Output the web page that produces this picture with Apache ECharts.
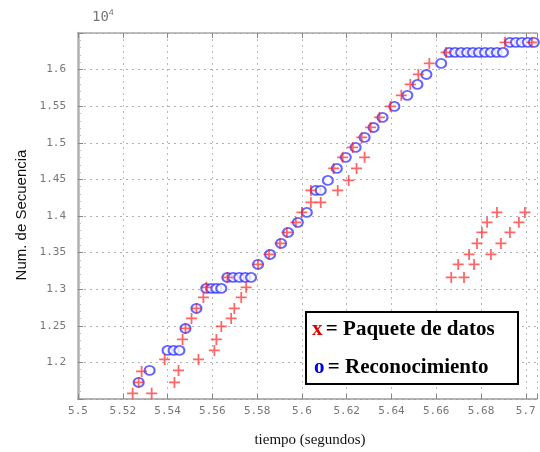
<!DOCTYPE html>
<html>
<head>
<meta charset="utf-8">
<script src="https://cdn.jsdelivr.net/npm/echarts@6/dist/echarts.min.js"></script>
<style>
  html, body { margin: 0; padding: 0; background: #fff; }
  #main { width: 540px; height: 452px; }
</style>
</head>
<body>
<div id="main"></div>
<script>
// tick labels (secuencia en unidades de 10^4)
var xTicks = ['5.5', '5.52', '5.54', '5.56', '5.58', '5.6', '5.62', '5.64', '5.66', '5.68', '5.7'];
var yTicks = ['1.2', '1.25', '1.3', '1.35', '1.4', '1.45', '1.5', '1.55', '1.6'];

// x = Paquete de datos  [tiempo, secuencia]
var paquetes = [
  [5.5244, 1.1577], [5.5271, 1.1727], [5.5284, 1.1877], [5.5329, 1.1577],
  [5.5387, 1.2041], [5.5431, 1.1727], [5.5449, 1.1891], [5.5467, 1.2314],
  [5.548, 1.2464], [5.5507, 1.2601], [5.5529, 1.2738], [5.5538, 1.2041],
  [5.556, 1.2888], [5.5573, 1.3025], [5.5609, 1.2164], [5.5618, 1.2314],
  [5.564, 1.2492], [5.5667, 1.3161], [5.5684, 1.2601], [5.5698, 1.2738],
  [5.5729, 1.2888], [5.5751, 1.3025], [5.5804, 1.3339], [5.5853, 1.3475],
  [5.5902, 1.3626], [5.5933, 1.3776], [5.5973, 1.3913], [5.6, 1.4049],
  [5.604, 1.4186], [5.6084, 1.4186], [5.604, 1.435], [5.616, 1.435],
  [5.6209, 1.4486], [5.6244, 1.465], [5.628, 1.4801],
  [5.6142, 1.465], [5.6182, 1.4801], [5.6227, 1.4937], [5.6267, 1.5074],
  [5.6307, 1.521], [5.6347, 1.5347], [5.6396, 1.5497], [5.6444, 1.5648],
  [5.6484, 1.5798], [5.652, 1.5934], [5.6569, 1.6085], [5.6644, 1.6235],
  [5.6907, 1.6372], [5.7027, 1.6372]
];
// retransmisiones abajo a la derecha
var paquetesA = [
  [5.6667, 1.3161], [5.6698, 1.3339], [5.6747, 1.3475], [5.6782, 1.3626],
  [5.6804, 1.3776], [5.6827, 1.3913], [5.6871, 1.4049]
];
var paquetesB = [
  [5.6724, 1.3161], [5.6769, 1.3339], [5.6844, 1.3475], [5.6889, 1.3626],
  [5.6929, 1.3776], [5.6969, 1.3913], [5.6996, 1.4049]
];

// o = Reconocimiento
var reconocimientos = [
  [5.5271, 1.1727], [5.532, 1.1891],
  [5.54, 1.2164], [5.5427, 1.2164], [5.5453, 1.2164],
  [5.548, 1.2464], [5.5529, 1.2738],
  [5.5573, 1.3011], [5.5596, 1.3011], [5.5618, 1.3011], [5.564, 1.3011],
  [5.5667, 1.3161], [5.5693, 1.3161], [5.572, 1.3161], [5.5747, 1.3161], [5.5773, 1.3161],
  [5.5804, 1.3339], [5.5858, 1.3475], [5.5907, 1.3626], [5.5938, 1.3776],
  [5.5982, 1.3913], [5.6022, 1.4049], [5.6062, 1.435], [5.6084, 1.435],
  [5.6116, 1.4486], [5.6156, 1.465], [5.6196, 1.4801], [5.624, 1.4937],
  [5.628, 1.5074], [5.632, 1.521], [5.636, 1.5347], [5.6413, 1.5497],
  [5.6471, 1.5648], [5.6516, 1.5798], [5.6556, 1.5934], [5.6622, 1.6085],
  [5.6658, 1.6235], [5.6684, 1.6235], [5.6711, 1.6235], [5.6738, 1.6235], [5.6764, 1.6235],
  [5.6791, 1.6235], [5.6818, 1.6235], [5.6844, 1.6235], [5.6871, 1.6235], [5.6898, 1.6235],
  [5.6929, 1.6372], [5.6956, 1.6372], [5.6982, 1.6372], [5.7009, 1.6372], [5.7036, 1.6372]
];

var cruz = 'path://M4.2,0H5.8V4.2H10V5.8H5.8V10H4.2V5.8H0V4.2H4.2Z';
var rojo = 'rgba(255,30,30,0.85)';
var azul = 'rgba(30,30,255,0.85)';

var myChart = echarts.init(document.getElementById('main'));

function tickFmt(list) {
  return function (v) {
    var s = String(Math.round(v * 1000) / 1000);
    return list.indexOf(s) >= 0 ? s : '';
  };
}

var option = {
  animation: false,
  grid: { left: 78, top: 33, right: 1, bottom: 53 },
  xAxis: [
    {
      type: 'value', min: 5.5, max: 5.705, interval: 0.02,
      axisLine: { lineStyle: { color: '#9a9a9a', width: 1.5 } },
      axisTick: { inside: true, length: 5, lineStyle: { color: '#888' } },
      splitLine: { show: true, lineStyle: { color: '#b8b8b8', type: [2, 4] } },
      axisLabel: { color: '#777', fontSize: 11, fontFamily: 'DejaVu Sans Mono', margin: 7,
        formatter: tickFmt(xTicks) }
    },
    {
      type: 'value', position: 'top', min: 5.5, max: 5.705, interval: 0.02,
      axisLine: { lineStyle: { color: '#a8a8a8', width: 1.5 } },
      axisTick: { inside: true, length: 5, lineStyle: { color: '#888' } },
      axisLabel: { show: false }, splitLine: { show: false }
    }
  ],
  yAxis: {
    type: 'value', min: 1.15, max: 1.65, interval: 0.05,
    axisLine: { show: true, lineStyle: { color: '#b0b0b0', width: 2.5 } },
    axisTick: { inside: true, length: 5, lineStyle: { color: '#888' } },
    minorTick: { show: true, splitNumber: 5, length: 3, lineStyle: { color: '#bbb' } },
    splitLine: { show: true, lineStyle: { color: '#b0b0b0', type: [2, 4] } },
    axisLabel: { color: '#777', fontSize: 11, fontFamily: 'DejaVu Sans Mono', margin: 12,
      formatter: tickFmt(yTicks) }
  },
  series: [
    {
      type: 'scatter', data: reconocimientos, symbol: 'emptyCircle',
      symbolSize: [10, 9],
      itemStyle: { color: azul, borderColor: azul, borderWidth: 2 }
    },
    {
      type: 'scatter', data: paquetes, symbol: cruz, symbolSize: 11,
      itemStyle: { color: rojo }
    },
    {
      type: 'scatter', data: paquetesA, symbol: cruz, symbolSize: 11,
      itemStyle: { color: rojo }
    },
    {
      type: 'scatter', data: paquetesB, symbol: cruz, symbolSize: 11,
      itemStyle: { color: rojo }
    }
  ],
  graphic: [
    {
      type: 'text', left: 92, top: 8,
      style: {
        text: '{b|10}{e|4}',
        rich: {
          b: { fontSize: 14, fill: '#777', fontFamily: 'DejaVu Sans Mono' },
          e: { fontSize: 9, fill: '#777', verticalAlign: 'top', padding: [0, 0, 9, 0] }
        }
      }
    },
    {
      type: 'text', x: 22, y: 215, rotation: Math.PI / 2, origin: [0, 0],
      style: { text: 'Num. de Secuencia', fill: '#111', fontSize: 15,
        fontFamily: 'Liberation Sans', align: 'center', verticalAlign: 'middle' }
    },
    {
      type: 'text', x: 310, y: 440,
      style: { text: 'tiempo (segundos)', fill: '#111', fontSize: 15,
        fontFamily: 'Liberation Serif', align: 'center', verticalAlign: 'middle' }
    },
    {
      type: 'rect', shape: { x: 306, y: 312, width: 212, height: 72 },
      style: { fill: '#fff', stroke: '#000', lineWidth: 2 }, z: 100
    },
    {
      type: 'text', x: 312, y: 330, z: 101,
      style: {
        text: '{r|x} {k|= Paquete de datos}',
        verticalAlign: 'middle',
        rich: {
          r: { fill: '#e00000', fontSize: 21, fontWeight: 'bold', fontFamily: 'Liberation Serif' },
          k: { fill: '#000', fontSize: 21, fontWeight: 'bold', fontFamily: 'Liberation Serif' }
        }
      }
    },
    {
      type: 'text', x: 314, y: 368, z: 101,
      style: {
        text: '{b|o} {k|= Reconocimiento}',
        verticalAlign: 'middle',
        rich: {
          b: { fill: '#0000e0', fontSize: 21, fontWeight: 'bold', fontFamily: 'Liberation Serif' },
          k: { fill: '#000', fontSize: 21, fontWeight: 'bold', fontFamily: 'Liberation Serif' }
        }
      }
    }
  ]
};

myChart.setOption(option);
</script>
</body>
</html>
